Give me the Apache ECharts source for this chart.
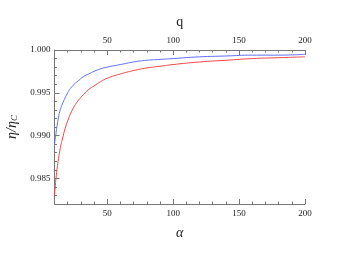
<!DOCTYPE html>
<html><head><meta charset="utf-8">
<script src="https://cdn.jsdelivr.net/npm/echarts@6/dist/echarts.min.js"></script>
<style>html,body{margin:0;padding:0;background:#fff}#c{width:360px;height:254px}</style>
</head><body><div id="c"></div>
<script>
const alpha = [10, 10.5, 11, 11.5, 12, 13, 14, 15, 16, 18, 20, 22, 25, 28, 32, 36, 40, 45, 50, 60, 70, 80, 90, 100, 120, 140, 160, 180, 200];
const blueVals = [0.9890, 0.9896, 0.9901, 0.9907, 0.9912, 0.9921, 0.9928, 0.9933, 0.9937, 0.9944, 0.9950, 0.9955, 0.9960, 0.9964, 0.9969, 0.9972, 0.9975, 0.9978, 0.9980, 0.9983, 0.9986, 0.9988, 0.9989, 0.9990, 0.9992, 0.9993, 0.9994, 0.9994, 0.9995];
const redVals = [0.9830, 0.9839, 0.9848, 0.9855, 0.9862, 0.9873, 0.9882, 0.9890, 0.9896, 0.9908, 0.9917, 0.9925, 0.9934, 0.9941, 0.9948, 0.9954, 0.9958, 0.9963, 0.9967, 0.9972, 0.9976, 0.9979, 0.9981, 0.9983, 0.9986, 0.9988, 0.9990, 0.9991, 0.9992];
const xTicks = [50, 100, 150, 200];
const yTicks = [0.985, 0.990, 0.995, 1.000];
const xMin = 10, xMax = 200, yMin = 0.982, yMax = 1.000;

const font = 'Liberation Serif';
const axisCol = '#777';
const chart = echarts.init(document.getElementById('c'));
function xAx(pos, major, name) {
  const a = {
    type: 'value', position: pos, min: xMin, max: xMax, offset: 0,
    axisLine: { show: major, onZero: false, lineStyle: { color: axisCol, width: 1 } },
    splitLine: { show: false },
    interval: 10,
  };
  if (major) {
    a.axisTick = { show: true, inside: true, length: 5, customValues: xTicks, lineStyle: { color: axisCol } };
    a.axisLabel = { show: true, customValues: xTicks, fontFamily: font, fontSize: 9, color: '#222', margin: 5 };
    if (name) {
      a.name = name.text; a.nameLocation = 'middle'; a.nameGap = name.gap;
      a.nameTextStyle = { fontFamily: font, fontSize: 14, color: '#222', fontStyle: name.italic ? 'italic' : 'normal' };
    }
  } else {
    a.axisTick = { show: true, inside: true, length: 2.5, lineStyle: { color: axisCol } };
    a.axisLabel = { show: false };
  }
  return a;
}
function yAx(major) {
  const a = {
    type: 'value', position: 'left', min: yMin, max: yMax, offset: 0,
    axisLine: { show: major, onZero: false, lineStyle: { color: axisCol, width: 1 } },
    splitLine: { show: false },
    interval: 0.001,
  };
  if (major) {
    a.axisTick = { show: true, inside: true, length: 5, customValues: yTicks, lineStyle: { color: axisCol } };
    a.axisLabel = { show: true, customValues: yTicks, fontFamily: font, fontSize: 9, color: '#222', margin: 4,
      formatter: v => v.toFixed(3) };
    a.name = '{a|η/η}{b|C}';
    a.nameLocation = 'middle'; a.nameGap = 33; a.nameRotate = 90;
    a.nameTextStyle = { rich: {
      a: { fontFamily: font, fontSize: 14, fontStyle: 'italic', color: '#222' },
      b: { fontFamily: font, fontSize: 9, fontStyle: 'italic', color: '#222', verticalAlign: 'bottom', padding: [6, 0, 0, 0] }
    } };
  } else {
    a.axisTick = { show: true, inside: true, length: 2.5, lineStyle: { color: axisCol } };
    a.axisLabel = { show: false };
  }
  return a;
}
chart.setOption({
  animation: false,
  grid: { left: 54.5, right: 55, top: 50, bottom: 50, containLabel: false, outerBoundsMode: 'none' },
  xAxis: [
    xAx('bottom', true, { text: 'α', gap: 22, italic: true }),
    xAx('bottom', false),
    xAx('top', true, { text: 'q', gap: 21, italic: false }),
    xAx('top', false)
  ],
  yAxis: [yAx(true), yAx(false)],
  series: [
    { type: 'line', name: 'blue', xAxisIndex: 0, yAxisIndex: 0, showSymbol: false, smooth: 0.5,
      data: alpha.map((x, i) => [x, blueVals[i]]), lineStyle: { color: '#5f6cf6', width: 1 } },
    { type: 'line', name: 'red', xAxisIndex: 0, yAxisIndex: 0, showSymbol: false, smooth: 0.5,
      data: alpha.map((x, i) => [x, redVals[i]]), lineStyle: { color: '#f24646', width: 1 } }
  ]
});
</script></body></html>
